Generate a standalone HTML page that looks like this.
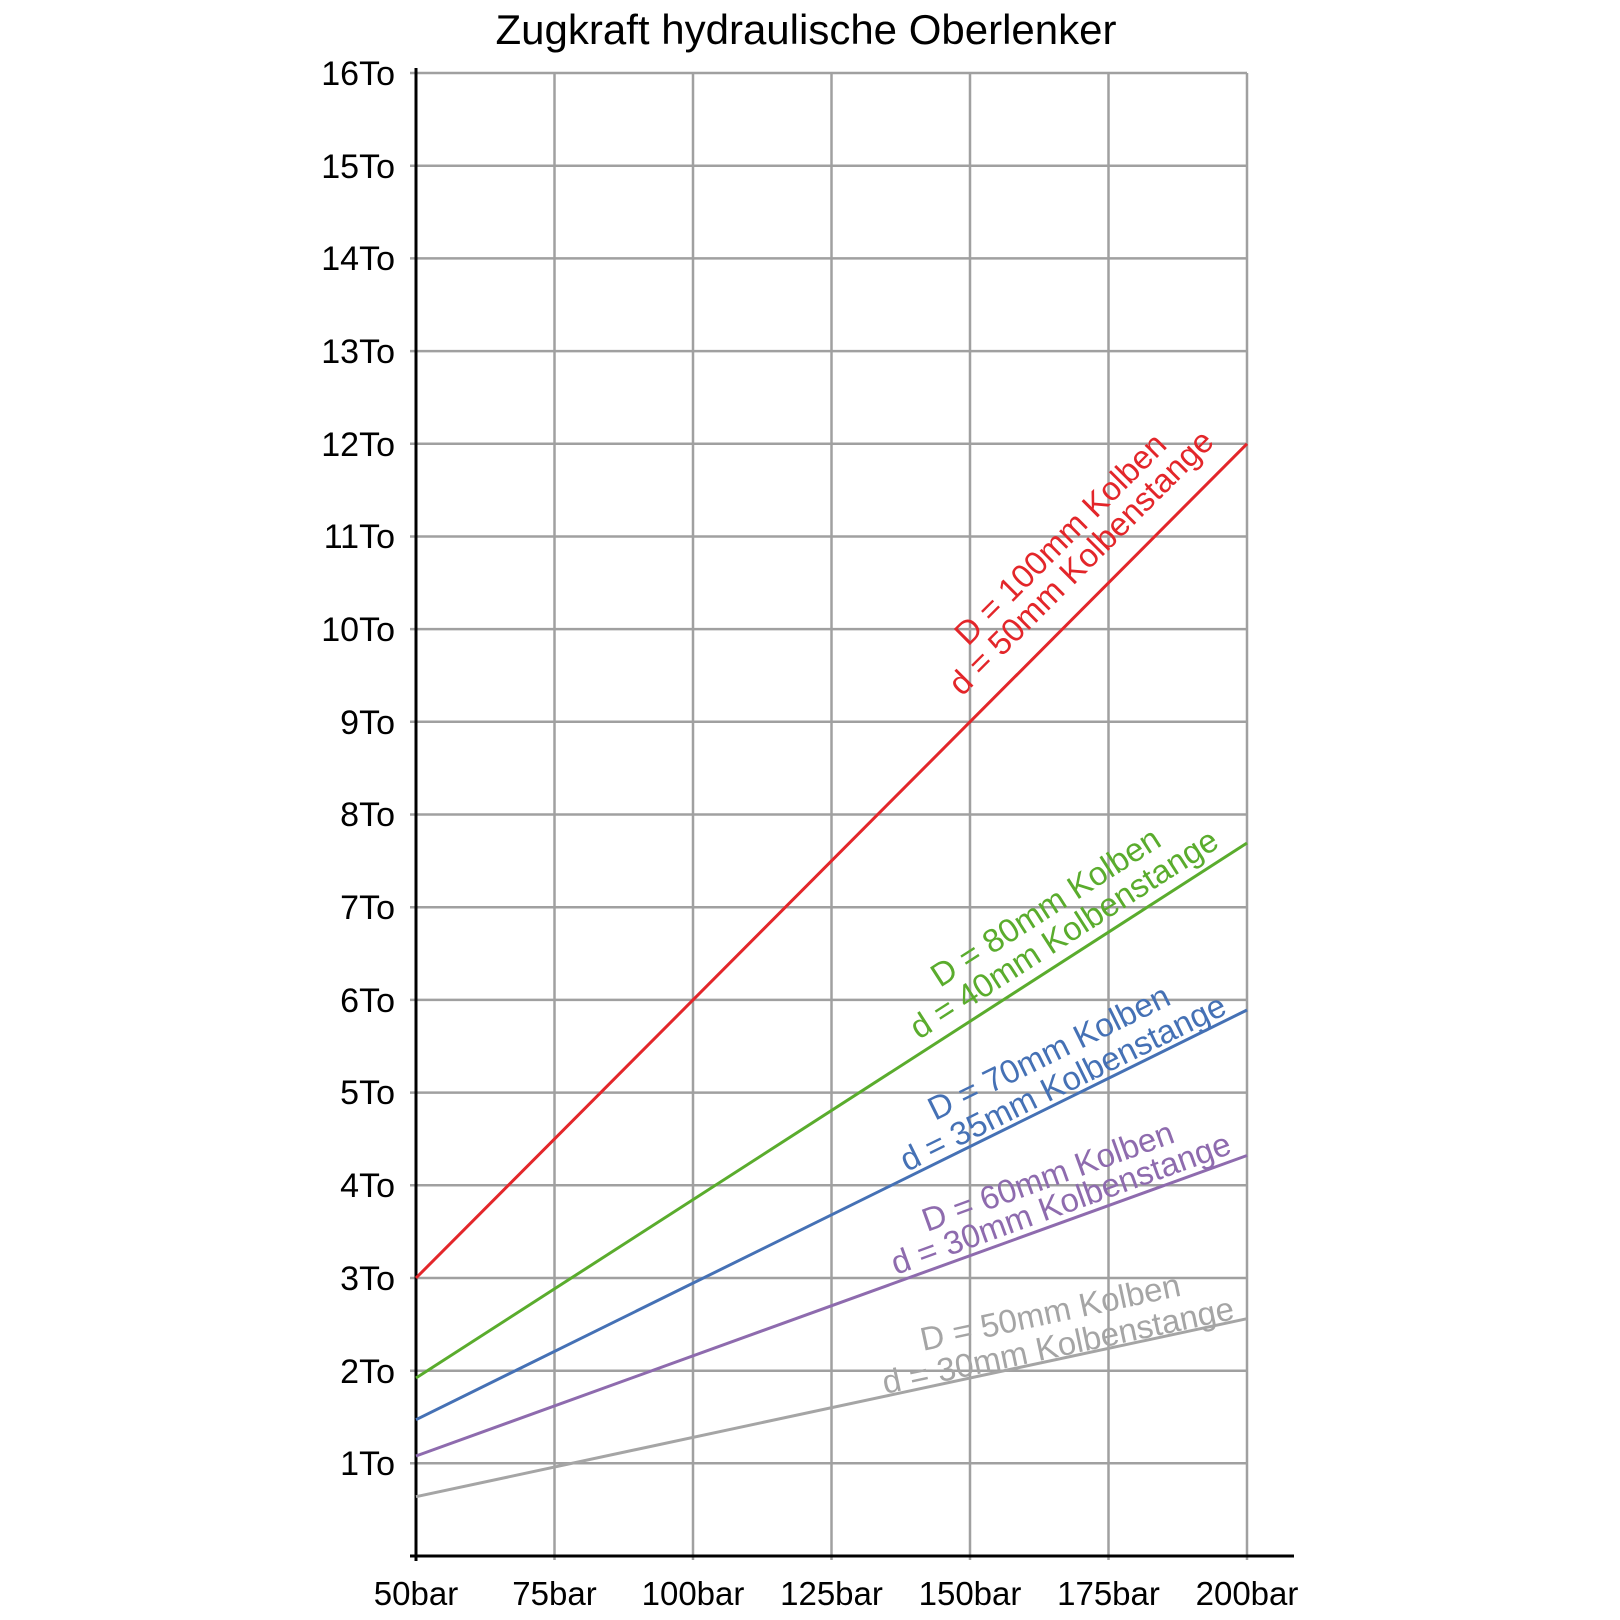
<!DOCTYPE html>
<html><head><meta charset="utf-8"><style>body{margin:0;background:#fff}svg{display:block}</style></head><body>
<svg width="1620" height="1620" viewBox="0 0 1620 1620" xmlns="http://www.w3.org/2000/svg" font-family="Liberation Sans, sans-serif">
<text x="806" y="44" font-size="42" text-anchor="middle">Zugkraft hydraulische Oberlenker</text>
<g stroke="#a0a0a0" stroke-width="2.5">
<line x1="554.5" y1="73" x2="554.5" y2="1560"/><line x1="693" y1="73" x2="693" y2="1560"/><line x1="831.5" y1="73" x2="831.5" y2="1560"/><line x1="970" y1="73" x2="970" y2="1560"/><line x1="1108.5" y1="73" x2="1108.5" y2="1560"/><line x1="1247" y1="73" x2="1247" y2="1560"/>
<line x1="410" x2="1247" y1="73" y2="73"/><line x1="410" x2="1247" y1="165.7" y2="165.7"/><line x1="410" x2="1247" y1="258.4" y2="258.4"/><line x1="410" x2="1247" y1="351.1" y2="351.1"/><line x1="410" x2="1247" y1="443.8" y2="443.8"/><line x1="410" x2="1247" y1="536.5" y2="536.5"/><line x1="410" x2="1247" y1="629.1" y2="629.1"/><line x1="410" x2="1247" y1="721.8" y2="721.8"/><line x1="410" x2="1247" y1="814.5" y2="814.5"/><line x1="410" x2="1247" y1="907.2" y2="907.2"/><line x1="410" x2="1247" y1="999.9" y2="999.9"/><line x1="410" x2="1247" y1="1092.6" y2="1092.6"/><line x1="410" x2="1247" y1="1185.3" y2="1185.3"/><line x1="410" x2="1247" y1="1278" y2="1278"/><line x1="410" x2="1247" y1="1370.7" y2="1370.7"/><line x1="410" x2="1247" y1="1463.3" y2="1463.3"/>
</g>
<g stroke="#000" stroke-width="3"><line x1="416" y1="68" x2="416" y2="1561"/><line x1="410" y1="1556" x2="1294" y2="1556"/></g>
<g font-size="34" text-anchor="end">
<text x="395" y="85">16To</text><text x="395" y="178">15To</text><text x="395" y="270">14To</text><text x="395" y="363">13To</text><text x="395" y="456">12To</text><text x="395" y="548">11To</text><text x="395" y="641">10To</text><text x="395" y="734">9To</text><text x="395" y="826">8To</text><text x="395" y="919">7To</text><text x="395" y="1012">6To</text><text x="395" y="1104">5To</text><text x="395" y="1197">4To</text><text x="395" y="1290">3To</text><text x="395" y="1383">2To</text><text x="395" y="1475">1To</text>
</g>
<g font-size="33" text-anchor="middle">
<text x="416" y="1605">50bar</text><text x="554.5" y="1605">75bar</text><text x="693" y="1605">100bar</text><text x="831.5" y="1605">125bar</text><text x="970" y="1605">150bar</text><text x="1108.5" y="1605">175bar</text><text x="1247" y="1605">200bar</text>
</g>
<g stroke-width="3" fill="none">
<line x1="416" y1="1278" x2="1247" y2="443.8" stroke="#e3262a"/>
<line x1="416" y1="1378" x2="1247" y2="843" stroke="#5aac2d"/>
<line x1="416" y1="1419.7" x2="1247" y2="1010" stroke="#4571b5"/>
<line x1="416" y1="1456" x2="1247" y2="1155.5" stroke="#8e6bae"/>
<line x1="416" y1="1496.7" x2="1247" y2="1318.7" stroke="#a5a5a5"/>
</g>
<g font-size="33">
<g fill="#e3262a"><text transform="translate(968,647) rotate(-45)">D = 100mm Kolben</text><text transform="translate(962,697) rotate(-45)">d = 50mm Kolbenstange</text></g>
<g fill="#5aac2d"><text transform="translate(940,988) rotate(-32.7)">D = 80mm Kolben</text><text transform="translate(919,1040) rotate(-32.7)">d = 40mm Kolbenstange</text></g>
<g fill="#4571b5"><text transform="translate(935,1121) rotate(-26.3)">D = 70mm Kolben</text><text transform="translate(907,1172) rotate(-26.3)">d = 35mm Kolbenstange</text></g>
<g fill="#8e6bae"><text transform="translate(927,1232) rotate(-19.9)">D = 60mm Kolben</text><text transform="translate(896,1275) rotate(-19.9)">d = 30mm Kolbenstange</text></g>
<g fill="#a5a5a5"><text transform="translate(923,1351) rotate(-12.1)">D = 50mm Kolben</text><text transform="translate(885,1394) rotate(-12.1)">d = 30mm Kolbenstange</text></g>
</g>
</svg>
</body></html>
